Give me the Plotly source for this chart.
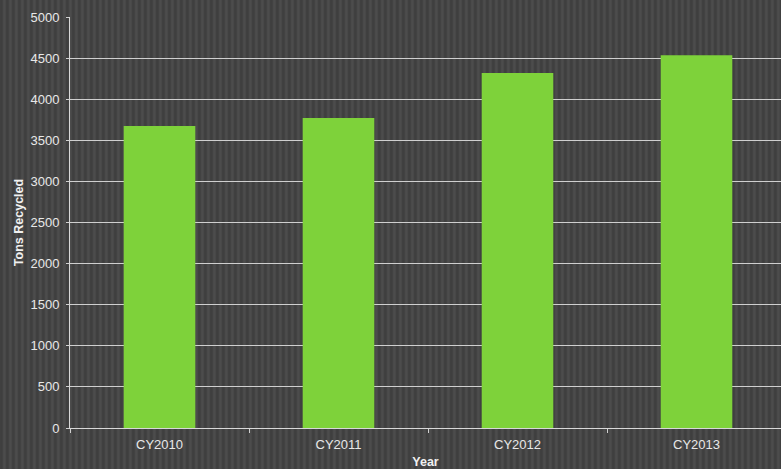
import base64, struct, zlib
import plotly.graph_objects as go

years = ["CY2010", "CY2011", "CY2012", "CY2013"]
tons = [3675, 3770, 4320, 4535]

W, H = 781, 469
L, R, T, B = 70, 0, 17, 41

def stripe_png(w, h, cols):
    row = bytearray([0])
    n = len(cols)
    for x in range(w):
        row += bytes(cols[x % n])
    raw = bytes(row) * h
    def chunk(tag, data):
        return struct.pack(">I", len(data)) + tag + data + struct.pack(">I", zlib.crc32(tag + data) & 0xffffffff)
    png = b"\x89PNG\r\n\x1a\n" + chunk(b"IHDR", struct.pack(">IIBBBBB", w, h, 8, 2, 0, 0, 0))
    png += chunk(b"IDAT", zlib.compress(raw, 9)) + chunk(b"IEND", b"")
    return "data:image/png;base64," + base64.b64encode(png).decode()

pattern = [(64, 64, 64), (63, 63, 63), (66, 66, 66), (74, 74, 74), (76, 76, 76), (72, 72, 72)]
img = stripe_png(W, H, pattern)

pw = W - L - R
ph = H - T - B

fig = go.Figure(go.Bar(x=years, y=tons, marker=dict(color="#7ED23A", line=dict(width=0)), width=0.4))

fig.add_layout_image(dict(source=img, xref="paper", yref="paper", x=-L / pw, y=1 + T / ph,
                          sizex=W / pw, sizey=H / ph, sizing="stretch", xanchor="left", yanchor="top",
                          layer="below"))

fam = "Liberation Sans, Arial, sans-serif"
tickf = dict(family=fam, size=13, color="#e8e8e8")
titlef = dict(family=fam, size=12.5, color="#f0f0f0")
fig.update_layout(
    width=W, height=H, margin=dict(l=L, r=R, t=T, b=B),
    paper_bgcolor="#464646", plot_bgcolor="rgba(0,0,0,0)",
    font=tickf, showlegend=False,
    xaxis=dict(range=[-0.5, -0.5 + pw / 179.0], tickson="boundaries", ticks="outside", ticklen=4,
               tickcolor="#d0d0d0", showgrid=False, showline=True, linecolor="#d8d8d8", linewidth=1,
               tickfont=tickf, ticklabelstandoff=4,
               title=dict(text="<b>Year</b>", font=titlef, standoff=6)),
    yaxis=dict(range=[0, 5000], dtick=500, ticks="outside", ticklen=3, tickcolor="#d0d0d0",
               showgrid=True, gridcolor="#cfcfcf", gridwidth=1, zeroline=False, showline=True,
               linecolor="#d8d8d8", linewidth=1, tickfont=tickf, ticklabelstandoff=4,
               title=dict(text="<b>Tons Recycled</b>", font=titlef, standoff=4)),
)
fig.write_html("out.html")
